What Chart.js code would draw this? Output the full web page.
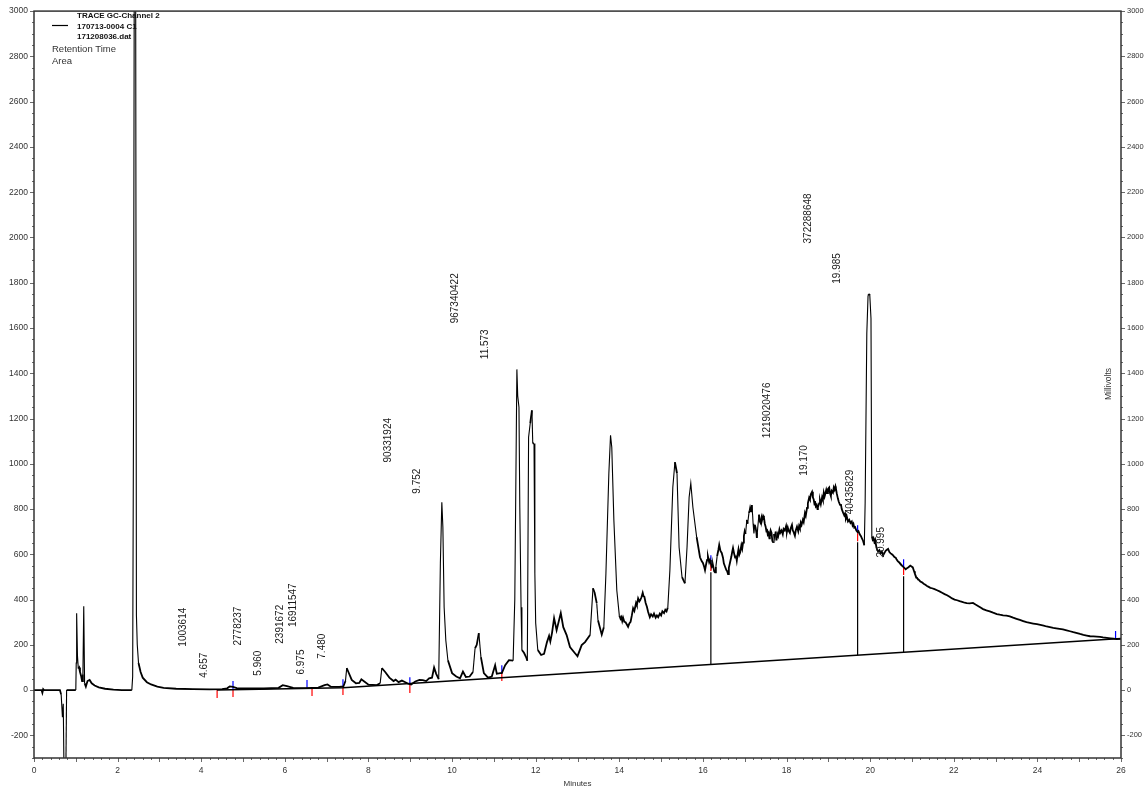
<!DOCTYPE html>
<html>
<head>
<meta charset="utf-8">
<title>TRACE GC-Channel 2</title>
<script src="https://cdn.jsdelivr.net/npm/chart.js@4/dist/chart.umd.min.js"></script>
<style>
  html, body { margin: 0; padding: 0; background: #ffffff; }
  canvas { display: block; }
</style>
</head>
<body>
<canvas id="chrom" width="1145" height="789"></canvas>
<script>
// Detector trace, [retention time (min), signal (mV)]
const trace = [
  [0.00, 0], [0.18, 0], [0.20, -12], [0.22, 4], [0.24, 0], [0.62, 0], [0.65, -20], [0.68, -120], [0.70, -60],
  [0.72, -400], [0.76, -400], [0.78, 0],
  [1.00, 0], [1.01, 120], [1.02, 340], [1.04, 150], [1.06, 95], [1.08, 100], [1.10, 80], [1.13, 60], [1.15, 40],
  [1.17, 70], [1.19, 370], [1.21, 30], [1.24, 15], [1.28, 40], [1.33, 45], [1.38, 30], [1.45, 20], [1.55, 12],
  [1.70, 6], [1.90, 2], [2.10, 0],
  [2.34, 0], [2.36, 60], [2.38, 1200], [2.40, 3400], [2.43, 3400], [2.45, 330], [2.47, 200], [2.50, 120],
  [2.55, 80], [2.60, 55], [2.70, 35], [2.80, 25], [2.95, 15], [3.10, 10], [3.40, 6], [3.80, 4], [4.20, 3],
  [4.50, 4], [4.62, 8], [4.68, 16], [4.76, 14], [4.85, 9], [5.10, 7], [5.50, 7], [5.85, 10], [5.95, 22],
  [6.05, 18], [6.20, 10], [6.50, 9], [6.80, 11], [6.95, 22], [7.02, 25], [7.10, 15], [7.30, 14], [7.40, 16],
  [7.45, 40], [7.48, 97], [7.52, 80], [7.60, 45], [7.70, 30], [7.78, 32], [7.83, 48], [7.90, 38], [8.00, 24],
  [8.20, 22], [8.28, 30], [8.32, 97], [8.40, 80], [8.50, 55], [8.60, 40], [8.65, 46], [8.72, 35], [8.80, 42],
  [8.87, 36], [8.95, 28], [9.02, 25], [9.12, 38], [9.22, 45], [9.30, 44], [9.38, 40], [9.45, 52], [9.52, 55],
  [9.57, 100], [9.62, 72], [9.68, 48], [9.72, 560], [9.755, 830], [9.78, 720], [9.81, 366], [9.85, 220],
  [9.90, 132], [10.00, 75], [10.10, 60], [10.19, 52], [10.26, 82], [10.33, 58], [10.42, 60], [10.50, 80],
  [10.55, 185], [10.59, 200], [10.64, 252], [10.69, 146], [10.76, 75], [10.86, 55], [10.95, 60], [11.03, 110],
  [11.07, 72], [11.15, 75], [11.19, 75], [11.27, 110], [11.36, 132], [11.46, 130], [11.50, 400], [11.55, 1417],
  [11.57, 1300], [11.60, 1250], [11.62, 808], [11.65, 366], [11.67, 177], [11.72, 165], [11.77, 146], [11.80, 130],
  [11.83, 1117], [11.87, 1180], [11.91, 1236], [11.93, 1090], [11.96, 1090], [11.98, 516], [12.00, 296],
  [12.05, 177], [12.13, 155], [12.20, 160], [12.27, 212], [12.32, 240], [12.35, 215], [12.39, 252], [12.44, 318],
  [12.50, 265], [12.60, 340], [12.66, 278], [12.74, 243], [12.82, 190], [12.94, 163], [13.00, 150], [13.10, 199],
  [13.18, 212], [13.30, 243], [13.37, 450], [13.41, 430], [13.46, 384], [13.49, 309], [13.58, 245], [13.63, 278],
  [13.68, 516], [13.75, 958], [13.79, 1126], [13.82, 1073], [13.87, 750], [13.94, 441],
  [14.00, 330], [14.03, 315], [14.05, 322], [14.07, 305], [14.09, 320], [14.12, 302], [14.15, 300], [14.18, 290],
  [14.21, 280], [14.24, 295], [14.27, 302], [14.30, 330], [14.33, 362], [14.36, 350], [14.40, 385], [14.42, 375],
  [14.45, 405], [14.48, 392], [14.50, 398], [14.53, 410], [14.56, 430], [14.58, 415], [14.60, 412], [14.63, 385],
  [14.66, 368], [14.69, 345], [14.73, 322], [14.76, 335], [14.80, 325], [14.83, 338], [14.87, 320], [14.90, 330],
  [14.93, 322], [14.97, 338], [15.00, 330], [15.03, 348], [15.07, 340], [15.10, 355], [15.13, 348], [15.16, 365],
  [15.21, 530], [15.28, 896], [15.33, 1007], [15.38, 958], [15.43, 631], [15.50, 499], [15.57, 472], [15.62, 631],
  [15.67, 852], [15.71, 914], [15.76, 808], [15.85, 676], [15.93, 587],
  [15.97, 570], [16.00, 562], [16.03, 545], [16.05, 530], [16.08, 560], [16.10, 575], [16.12, 590], [16.15, 565],
  [16.17, 575], [16.19, 560], [16.22, 545], [16.24, 552], [16.27, 525], [16.29, 520], [16.31, 545], [16.34, 592],
  [16.37, 620], [16.39, 642], [16.42, 615], [16.45, 606], [16.48, 585], [16.50, 560], [16.53, 545], [16.56, 530],
  [16.58, 525], [16.60, 512], [16.62, 540], [16.65, 565], [16.68, 590], [16.70, 610], [16.72, 628], [16.75, 600],
  [16.77, 585], [16.79, 595], [16.81, 572], [16.83, 600], [16.85, 622], [16.87, 598], [16.89, 608], [16.92, 640],
  [16.94, 625], [16.96, 652], [16.98, 680], [17.00, 702], [17.02, 690], [17.05, 752], [17.07, 735], [17.10, 782],
  [17.12, 795], [17.13, 805], [17.15, 790], [17.17, 818], [17.19, 770], [17.20, 735], [17.22, 692], [17.24, 730],
  [17.26, 718], [17.28, 695], [17.29, 672], [17.31, 715], [17.34, 775], [17.36, 745], [17.38, 738], [17.40, 760],
  [17.41, 748], [17.44, 770], [17.46, 762], [17.48, 735], [17.50, 722], [17.52, 700], [17.53, 712], [17.55, 688],
  [17.57, 695], [17.59, 670], [17.60, 680], [17.62, 705], [17.64, 695], [17.66, 660], [17.68, 652], [17.70, 690],
  [17.72, 675], [17.74, 700], [17.76, 662], [17.78, 690], [17.80, 680], [17.83, 710], [17.85, 695], [17.88, 705],
  [17.91, 688], [17.93, 712], [17.96, 705], [17.99, 725], [18.01, 700], [18.03, 718], [18.05, 705], [18.08, 695],
  [18.10, 715], [18.13, 730], [18.15, 705], [18.17, 698], [18.20, 682], [18.22, 705], [18.25, 722], [18.28, 702],
  [18.30, 725], [18.32, 715], [18.34, 740], [18.36, 730], [18.39, 752], [18.41, 742], [18.44, 782], [18.46, 770],
  [18.49, 805], [18.51, 825], [18.54, 850], [18.56, 842], [18.58, 865], [18.61, 876], [18.63, 852], [18.65, 842],
  [18.67, 820], [18.68, 835], [18.70, 812], [18.72, 818], [18.74, 800], [18.75, 808], [18.78, 825], [18.80, 838],
  [18.82, 822], [18.85, 852], [18.87, 840], [18.89, 872], [18.91, 855], [18.92, 862], [18.95, 885], [18.97, 870],
  [18.99, 888], [19.02, 895], [19.04, 870], [19.06, 858], [19.08, 880], [19.11, 872], [19.13, 895], [19.15, 885],
  [19.17, 900], [19.18, 892], [19.20, 870], [19.23, 845], [19.25, 832], [19.28, 818], [19.30, 822], [19.32, 800],
  [19.35, 785], [19.38, 772], [19.40, 780], [19.42, 758], [19.44, 768], [19.47, 745], [19.50, 752], [19.53, 738],
  [19.56, 745], [19.58, 728], [19.60, 735], [19.62, 718], [19.64, 720], [19.67, 705], [19.70, 698], [19.72, 702],
  [19.75, 688], [19.78, 680], [19.80, 672], [19.83, 660], [19.86, 640], [19.88, 826], [19.92, 1576], [19.95, 1744],
  [19.99, 1750], [20.02, 1642], [20.04, 680], [20.06, 665], [20.08, 672], [20.10, 655], [20.12, 664], [20.15, 630],
  [20.17, 620], [20.19, 612], [20.22, 618], [20.25, 605], [20.28, 612], [20.31, 595], [20.34, 605], [20.37, 615],
  [20.40, 620], [20.43, 624], [20.46, 610], [20.49, 604], [20.52, 600], [20.55, 595], [20.58, 588], [20.61, 585],
  [20.63, 578], [20.66, 570], [20.69, 565], [20.71, 560], [20.74, 555], [20.77, 548], [20.80, 543], [20.83, 538],
  [20.85, 534], [20.88, 538], [20.90, 540], [20.93, 545], [20.96, 550], [20.99, 546], [21.02, 542], [21.05, 525],
  [21.07, 514], [21.10, 500], [21.12, 495], [21.16, 488], [21.20, 480], [21.24, 476], [21.28, 470], [21.32, 465],
  [21.36, 460], [21.40, 456], [21.44, 452], [21.48, 450], [21.54, 446], [21.60, 441], [21.66, 436], [21.72, 430],
  [21.78, 424], [21.84, 419], [21.90, 412], [21.96, 405], [22.02, 400], [22.08, 397], [22.14, 393], [22.20, 390],
  [22.26, 386], [22.31, 384], [22.38, 383], [22.46, 385], [22.52, 378], [22.58, 372], [22.64, 365], [22.70, 358],
  [22.78, 352], [22.86, 348], [22.94, 342], [23.03, 336], [23.10, 333], [23.18, 330], [23.26, 329], [23.34, 326],
  [23.42, 320], [23.50, 315], [23.58, 310], [23.66, 305], [23.74, 300], [23.82, 297], [23.90, 294], [23.99, 291],
  [24.07, 288], [24.15, 285], [24.22, 281], [24.30, 278], [24.38, 275], [24.45, 273], [24.53, 271], [24.61, 268],
  [24.70, 264], [24.78, 260], [24.86, 256], [24.95, 252], [25.02, 248], [25.10, 244], [25.18, 241], [25.26, 238],
  [25.34, 237], [25.42, 236], [25.50, 235], [25.57, 233], [25.66, 231], [25.75, 229], [25.82, 227], [25.90, 225],
  [26.00, 226]
];

// Integration baseline
const baselineMinutes = [4.38, 7.39, 26.00];
const baselineMillivolts = [0, 10, 228];

// Peak split drops (from the baseline up to the trace)
const dropMinutes = [16.19, 19.70, 20.80];
const dropFrom = [113, 154, 167];
const dropTo = [521, 653, 503];

// Peak start/stop event marks: r = start (red), b = stop (blue)
const eventMinutes = [4.38, 4.76, 6.53, 6.65, 7.39, 8.99, 11.19, 16.19, 19.70, 20.80, 25.87];
const eventLevel = [0, 5, 10, 9, 13, 22, 75, 561, 693, 543, 226];
const eventKinds = ['r', 'rb', 'b', 'r', 'rb', 'rb', 'rb', 'rb', 'rb', 'rb', 'b'];
const eventSize = 35;

// Peak annotations: area and retention time
const peakAreas = ['1003614', '2778237', '2391672', '16911547', '90331924', '967340422', '1219020476', '372288648', '40435829'];
const peakTimes = ['4.657', '5.960', '6.975', '7.480', '9.752', '11.573', '19.170', '19.985', '20.995'];

// Axis tick spacing
const yTickStep = 200;
const xTickStep = 2;

// Where each annotation is written (minutes, mV at text centre)
const areaSpots = [
  [3.56, 278], [4.88, 283], [5.88, 291], [6.19, 375], [8.47, 1104],
  [10.07, 1731], [17.53, 1236], [18.51, 2084], [19.52, 875]
];
const timeSpots = [
  [4.07, 110], [5.36, 119], [6.39, 124], [6.89, 194], [9.16, 923],
  [10.79, 1528], [18.42, 1015], [19.21, 1863], [20.26, 653]
];

const FONT = "'Liberation Sans', Arial, Helvetica, sans-serif";

const datasets = [];
datasets.push({
  label: 'trace',
  data: trace.map(p => ({ x: p[0], y: p[1] })),
  borderColor: '#000000',
  borderWidth: 1.1,
  pointRadius: 0,
  tension: 0,
  segment: {
    // slow-changing stretches render heavier than the steep peak flanks
    borderWidth: c => {
      const dx = Math.abs(c.p1.x - c.p0.x);
      const dy = Math.abs(c.p1.y - c.p0.y);
      return dy > 6 * dx + 3 ? 1.1 : 1.8;
    }
  }
});
datasets.push({
  label: 'baseline',
  data: baselineMinutes.map((m, i) => ({ x: m, y: baselineMillivolts[i] })),
  borderColor: '#000000',
  borderWidth: 1.5,
  pointRadius: 0,
  tension: 0
});
dropMinutes.forEach((m, i) => {
  datasets.push({
    label: 'drop',
    data: [{ x: m, y: dropFrom[i] }, { x: m, y: dropTo[i] }],
    borderColor: '#000000',
    borderWidth: 1.2,
    pointRadius: 0
  });
});
eventMinutes.forEach((m, i) => {
  const k = eventKinds[i];
  if (k.includes('r')) {
    datasets.push({
      label: 'start',
      data: [{ x: m, y: eventLevel[i] - eventSize }, { x: m, y: eventLevel[i] }],
      borderColor: '#ff0000',
      borderWidth: 1.2,
      pointRadius: 0
    });
  }
  if (k.includes('b')) {
    datasets.push({
      label: 'stop',
      data: [{ x: m, y: eventLevel[i] }, { x: m, y: eventLevel[i] + eventSize }],
      borderColor: '#0000ff',
      borderWidth: 1.2,
      pointRadius: 0
    });
  }
});

// Frame, minor tick marks, annotations and header text
const decor = {
  id: 'decor',
  afterDatasetsDraw(chart) {
    const { ctx, chartArea: a, scales } = chart;
    const xs = scales.x, ys = scales.y;
    ctx.save();

    // tick marks
    ctx.strokeStyle = '#6a6a6a';
    ctx.lineWidth = 1;
    ctx.beginPath();
    for (let v = -300; v <= 3000; v += 50) {
      const py = Math.round(ys.getPixelForValue(v)) + 0.5;
      const len = v % 200 === 0 ? 4 : 2;
      ctx.moveTo(a.left - len, py); ctx.lineTo(a.left, py);
      ctx.moveTo(a.right, py); ctx.lineTo(a.right + len, py);
    }
    for (let t = 0; t <= 130; t += 1) {
      const m = t / 5;
      const px = Math.round(xs.getPixelForValue(m)) + 0.5;
      const len = t % 5 === 0 ? 4 : 2;
      ctx.moveTo(px, a.bottom); ctx.lineTo(px, a.bottom + len);
    }
    ctx.stroke();

    // plot frame
    ctx.strokeStyle = '#333333';
    ctx.lineWidth = 1.5;
    ctx.strokeRect(a.left, a.top, a.right - a.left, a.bottom - a.top);

    // rotated peak annotations
    ctx.fillStyle = '#1a1a1a';
    ctx.font = '10px ' + FONT;
    ctx.textAlign = 'center';
    ctx.textBaseline = 'middle';
    const rot = (txt, m, v) => {
      ctx.save();
      ctx.translate(xs.getPixelForValue(m), ys.getPixelForValue(v));
      ctx.rotate(-Math.PI / 2);
      ctx.fillText(txt, 0, 0);
      ctx.restore();
    };
    peakAreas.forEach((t, i) => rot(t, areaSpots[i][0], areaSpots[i][1]));
    peakTimes.forEach((t, i) => rot(t, timeSpots[i][0], timeSpots[i][1]));

    // axis unit inside the right edge
    ctx.font = '8.5px ' + FONT;
    ctx.fillStyle = '#333333';
    ctx.save();
    ctx.translate(a.right - 12, 384);
    ctx.rotate(-Math.PI / 2);
    ctx.fillText('Millivolts', 0, 0);
    ctx.restore();

    // x axis title
    ctx.font = '8px ' + FONT;
    ctx.fillText('Minutes', (a.left + a.right) / 2, 784);

    // header / legend block
    ctx.strokeStyle = '#000000';
    ctx.lineWidth = 1.2;
    ctx.beginPath();
    ctx.moveTo(52, 25.5); ctx.lineTo(68, 25.5);
    ctx.stroke();
    ctx.textAlign = 'left';
    ctx.fillStyle = '#111111';
    ctx.font = 'bold 8px ' + FONT;
    ctx.fillText('TRACE GC-Channel 2', 77, 15.5);
    ctx.fillText('170713-0004 C1', 77, 26.5);
    ctx.fillText('171208036.dat', 77, 36.5);
    ctx.font = '9.5px ' + FONT;
    ctx.fillStyle = '#333333';
    ctx.fillText('Retention Time', 52, 49);
    ctx.fillText('Area', 52, 61.5);

    ctx.restore();
  }
};

const yLabel = (v) => (v % yTickStep === 0 ? String(v) : '');

new Chart(document.getElementById('chrom'), {
  type: 'line',
  data: { datasets },
  options: {
    responsive: false,
    animation: false,
    events: [],
    layout: { padding: { top: 10, left: 0, right: 0, bottom: 0 } },
    plugins: { legend: { display: false }, tooltip: { enabled: false } },
    scales: {
      x: {
        type: 'linear',
        min: 0, max: 26,
        grid: { display: false, drawTicks: false },
        border: { display: false },
        ticks: { stepSize: xTickStep, font: { family: FONT, size: 8.5 }, color: '#333333', padding: 8, maxRotation: 0, autoSkip: false },
        afterFit(s) { s.height = 31; }
      },
      y: {
        type: 'linear',
        position: 'left',
        min: -300, max: 3000,
        grid: { display: false, drawTicks: false },
        border: { display: false },
        ticks: { stepSize: yTickStep, font: { family: FONT, size: 8.5 }, color: '#333333', padding: 6, callback: yLabel, autoSkip: false },
        afterFit(s) { s.width = 34; }
      },
      y2: {
        type: 'linear',
        position: 'right',
        min: -300, max: 3000,
        grid: { display: false, drawTicks: false },
        border: { display: false },
        ticks: { stepSize: yTickStep, font: { family: FONT, size: 7.5 }, color: '#333333', padding: 6, callback: yLabel, autoSkip: false },
        afterFit(s) { s.width = 24; }
      }
    }
  },
  plugins: [decor]
});
</script>
</body>
</html>
